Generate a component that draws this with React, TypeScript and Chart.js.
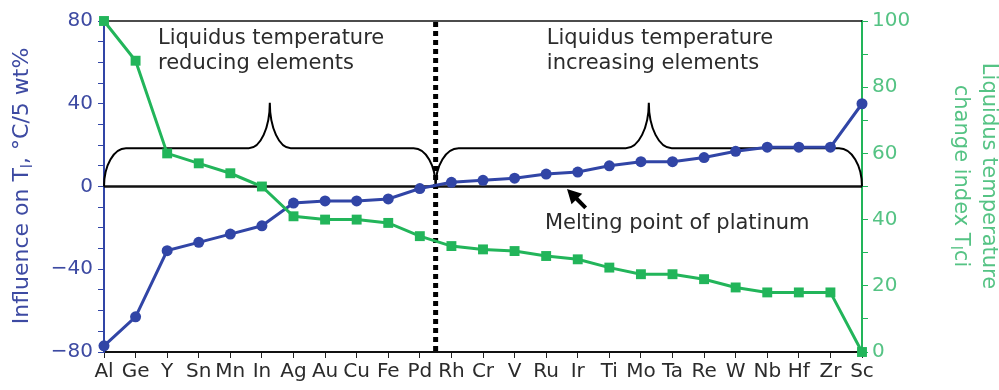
import { useEffect, useRef } from 'react';
import { Chart, registerables } from 'chart.js';

Chart.register(...registerables);

const categories = ['Al', 'Ge', 'Y', 'Sn', 'Mn', 'In', 'Ag', 'Au', 'Cu', 'Fe', 'Pd', 'Rh', 'Cr', 'V', 'Ru', 'Ir', 'Ti', 'Mo', 'Ta', 'Re', 'W', 'Nb', 'Hf', 'Zr', 'Sc'];
const influence = [-77, -63, -31, -27, -23, -19, -8, -7, -7, -6, -1, 2, 3, 4, 6, 7, 10, 12, 12, 14, 17, 19, 19, 19, 40];
const tlci = [100, 88, 60, 57, 54, 50, 41, 40, 40, 39, 35, 32, 31, 30.5, 29, 28, 25.5, 23.5, 23.5, 22, 19.5, 18, 18, 18, 0];

const leftTickStep = 10;
const leftLabelStep = 40;
const rightTickStep = 10;
const rightLabelStep = 20;

const BLUE = '#3145a6';
const BLUE_TXT = '#3d4aa2';
const GREEN = '#22b55a';
const GREEN_TXT = '#55c384';
const DARK = '#2b2b2b';
const FONT = 'DejaVu Sans';

const drawBrace = (ctx: CanvasRenderingContext2D, x0: number, x1: number, yBase: number, yShoulder: number, yPeak: number, rc: number, rt: number) => {
  const mid = (x0 + x1) / 2;
  ctx.beginPath();
  ctx.moveTo(x0, yBase);
  ctx.ellipse(x0 + rc, yBase, rc, yBase - yShoulder, 0, Math.PI, 1.5 * Math.PI, false);
  ctx.lineTo(mid - rt, yShoulder);
  ctx.ellipse(mid - rt, yPeak, rt, yShoulder - yPeak, 0, 0.5 * Math.PI, 0, true);
  ctx.ellipse(mid + rt, yPeak, rt, yShoulder - yPeak, 0, Math.PI, 0.5 * Math.PI, true);
  ctx.lineTo(x1 - rc, yShoulder);
  ctx.ellipse(x1 - rc, yBase, rc, yBase - yShoulder, 0, 1.5 * Math.PI, 2 * Math.PI, false);
  ctx.stroke();
};

const drawParts = (ctx: CanvasRenderingContext2D, parts: { t: string; f: number; dy: number }[], cx: number, baseY: number) => {
  let total = 0;
  for (const p of parts) {
    ctx.font = `${p.f}px "${FONT}"`;
    total += ctx.measureText(p.t).width;
  }
  let x = cx - total / 2;
  ctx.textAlign = 'left';
  ctx.textBaseline = 'alphabetic';
  for (const p of parts) {
    ctx.font = `${p.f}px "${FONT}"`;
    ctx.fillText(p.t, x, baseY + p.dy);
    x += ctx.measureText(p.t).width;
  }
};

const decoPlugin = {
  id: 'deco',
  beforeDatasetsDraw(chart: any) {
    const { ctx, chartArea } = chart;
    const xs = chart.scales.x;
    const yl = chart.scales.yL;
    const y0 = yl.getPixelForValue(0);
    ctx.save();
    // top frame line
    ctx.strokeStyle = '#111';
    ctx.lineWidth = 1.5;
    ctx.beginPath();
    ctx.moveTo(chartArea.left, chartArea.top);
    ctx.lineTo(chartArea.right, chartArea.top);
    ctx.stroke();
    // zero line
    ctx.lineWidth = 2.5;
    ctx.beginPath();
    ctx.moveTo(chartArea.left, y0);
    ctx.lineTo(chartArea.right, y0);
    ctx.stroke();
    // braces
    ctx.lineWidth = 2;
    ctx.strokeStyle = '#000';
    const ys = yl.getPixelForValue(18.5);
    const yp = yl.getPixelForValue(40.5);
    drawBrace(ctx, xs.getPixelForValue(0), xs.getPixelForValue(10.5), y0, ys, yp, 22, 21);
    drawBrace(ctx, xs.getPixelForValue(10.5), xs.getPixelForValue(24), y0, ys, yp, 23, 23);
    // dotted separator
    const xd = xs.getPixelForValue(10.5);
    ctx.lineWidth = 5;
    ctx.setLineDash([5, 4]);
    ctx.beginPath();
    ctx.moveTo(xd, chartArea.top + 1);
    ctx.lineTo(xd, chartArea.bottom);
    ctx.stroke();
    ctx.setLineDash([]);
    // arrow
    const tx = xs.getPixelForValue(14.66), ty = yl.getPixelForValue(-1.2);
    const sx = xs.getPixelForValue(15.25), sy = yl.getPixelForValue(-10.3);
    const ang = Math.atan2(ty - sy, tx - sx);
    const hl = 14, hw = 7.5;
    const bx = tx - hl * Math.cos(ang), by = ty - hl * Math.sin(ang);
    ctx.fillStyle = '#000';
    ctx.lineWidth = 4;
    ctx.beginPath();
    ctx.moveTo(sx, sy);
    ctx.lineTo(bx + 2 * Math.cos(ang), by + 2 * Math.sin(ang));
    ctx.stroke();
    ctx.beginPath();
    ctx.moveTo(tx, ty);
    ctx.lineTo(bx + hw * Math.sin(ang), by - hw * Math.cos(ang));
    ctx.lineTo(bx - hw * Math.sin(ang), by + hw * Math.cos(ang));
    ctx.closePath();
    ctx.fill();
    // annotation texts
    ctx.fillStyle = DARK;
    ctx.font = `21px "${FONT}"`;
    ctx.textAlign = 'left';
    ctx.textBaseline = 'alphabetic';
    ctx.fillText('Liquidus temperature', xs.getPixelForValue(1.71), yl.getPixelForValue(68.7));
    ctx.fillText('reducing elements', xs.getPixelForValue(1.71), yl.getPixelForValue(56.6));
    ctx.fillText('Liquidus temperature', xs.getPixelForValue(14.02), yl.getPixelForValue(68.7));
    ctx.fillText('increasing elements', xs.getPixelForValue(14.02), yl.getPixelForValue(56.6));
    ctx.fillText('Melting point of platinum', xs.getPixelForValue(13.96), yl.getPixelForValue(-20.7));
    ctx.restore();
  },
  afterDraw(chart: any) {
    const { ctx } = chart;
    ctx.save();
    // left title
    ctx.translate(21, 186);
    ctx.rotate(-Math.PI / 2);
    ctx.fillStyle = BLUE_TXT;
    drawParts(ctx, [
      { t: 'Influence on T', f: 22, dy: 0 },
      { t: 'l', f: 15, dy: 4 },
      { t: ', \u00B0C/5 wt%', f: 22, dy: 0 },
    ], 0, 7);
    ctx.restore();
    ctx.save();
    ctx.translate(969, 176);
    ctx.rotate(Math.PI / 2);
    ctx.fillStyle = GREEN_TXT;
    drawParts(ctx, [{ t: 'Liquidus temperature', f: 21, dy: 0 }], 0, -14);
    drawParts(ctx, [
      { t: 'change index T', f: 21, dy: 0 },
      { t: 'l', f: 15, dy: 4 },
      { t: 'ci', f: 21, dy: 0 },
    ], 0, 14);
    ctx.restore();
  },
};

const fmtLeft = (v: number) => (v < 0 ? '\u2212' + Math.abs(v) : String(v));

export default function App() {
  const ref = useRef<HTMLCanvasElement>(null);
  useEffect(() => {
    Chart.defaults.font.family = FONT;
    const chart = new Chart(ref.current as HTMLCanvasElement, {
      type: 'line',
      data: {
        labels: categories,
        datasets: [
          {
            label: 'Tlci',
            data: tlci,
            yAxisID: 'yR',
            borderColor: GREEN,
            backgroundColor: GREEN,
            borderWidth: 3,
            pointStyle: 'rect',
            pointRadius: 7,
            pointBorderWidth: 0,
            clip: false as any,
          },
          {
            label: 'Influence',
            data: influence,
            yAxisID: 'yL',
            borderColor: BLUE,
            backgroundColor: BLUE,
            borderWidth: 3,
            pointStyle: 'circle',
            pointRadius: 5.5,
            pointBorderWidth: 0,
            clip: false as any,
          },
        ],
      },
      options: {
        responsive: false,
        animation: false,
        layout: { padding: { top: 21, left: 0, right: 0, bottom: 0 } },
        plugins: { legend: { display: false }, tooltip: { enabled: false } },
        scales: {
          x: {
            type: 'category',
            offset: false,
            grid: { drawOnChartArea: false, drawTicks: true, tickLength: 6, color: '#222', offset: false },
            border: { color: '#111', width: 2 },
            ticks: { color: DARK, font: { size: 20 }, autoSkip: false, maxRotation: 0, padding: 2 },
            afterFit: (s: any) => { s.height = 38; },
          },
          yL: {
            position: 'left',
            min: -80,
            max: 80,
            grid: { drawOnChartArea: false, tickLength: 6, color: BLUE },
            border: { color: BLUE, width: 2 },
            ticks: {
              stepSize: leftTickStep,
              autoSkip: false,
              color: BLUE_TXT,
              font: { size: 20 },
              padding: 5,
              callback: (v: any) => (Number(v) % leftLabelStep === 0 ? fmtLeft(Number(v)) : ''),
            },
            afterFit: (s: any) => { s.width = 104; },
          },
          yR: {
            position: 'right',
            min: 0,
            max: 100,
            grid: { drawOnChartArea: false, tickLength: 6, color: GREEN },
            border: { color: GREEN, width: 2 },
            ticks: {
              stepSize: rightTickStep,
              autoSkip: false,
              color: GREEN_TXT,
              font: { size: 20 },
              padding: 4,
              callback: (v: any) => (Number(v) % rightLabelStep === 0 ? String(v) : ''),
            },
            afterFit: (s: any) => { s.width = 137; },
          },
        },
      } as any,
      plugins: [decoPlugin],
    });
    return () => chart.destroy();
  }, []);
  return (
    <div style={{ position: 'fixed', left: 0, top: 0, width: 999, height: 390, background: '#fff' }}>
      <canvas ref={ref} width={999} height={390} style={{ display: 'block', width: 999, height: 390 }} />
    </div>
  );
}
